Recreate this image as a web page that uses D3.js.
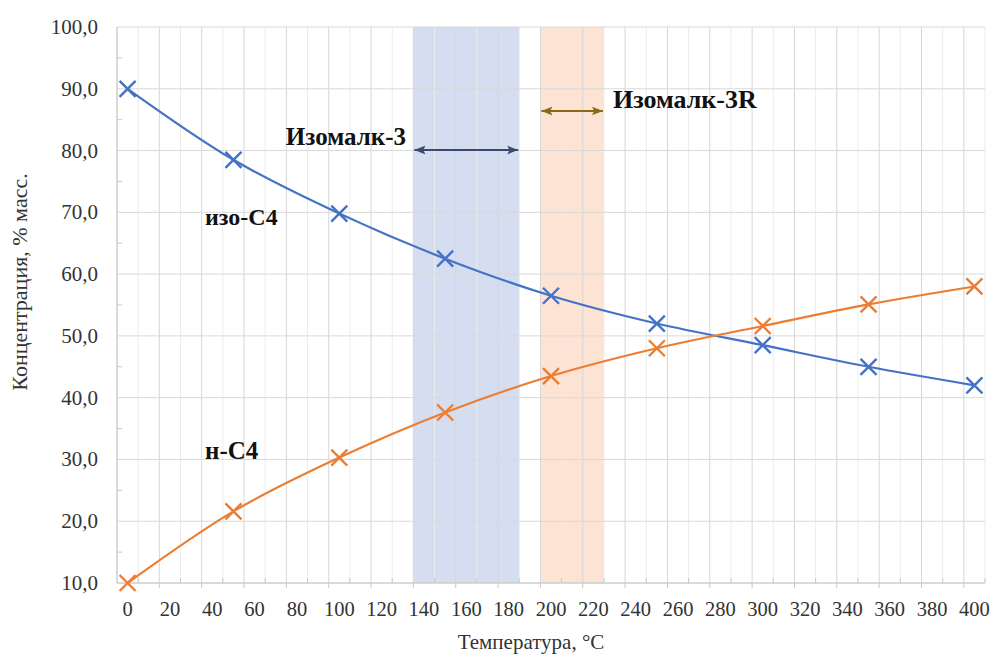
<!DOCTYPE html>
<html>
<head>
<meta charset="utf-8">
<script src="https://cdn.jsdelivr.net/npm/d3@7"></script>
<style>
  body { margin: 0; background: #fff; }
</style>
</head>
<body>
<div id="chart"></div>
<script>
// Temperature points, °C
var temps = [0, 50, 100, 150, 200, 250, 300, 350, 400];
// Concentration, % mass
var isoC4 = [90.0, 78.5, 69.8, 62.5, 56.5, 52.0, 48.5, 45.0, 42.0];
var nC4 = [10.0, 21.6, 30.3, 37.6, 43.5, 48.0, 51.6, 55.1, 58.0];

// Catalyst operating ranges
var bands = [
  { name: "Изомалк-3", from: 135, to: 185 },
  { name: "Изомалк-3R", from: 195, to: 225 }
];

var xTicks = d3.range(0, 401, 20);
var yTicks = d3.range(10, 101, 10);

var width = 993, height = 657;

var svg = d3.select("#chart").append("svg")
  .attr("width", width)
  .attr("height", height)
  .attr("font-family", "'Liberation Serif', 'Times New Roman', Tinos, 'DejaVu Serif', serif");

// Axis range mirrors the original sheet (min -5, so grid sits at odd values)
var x = d3.scaleLinear().domain([-5, 405]).range([117, 985]);
var y = d3.scaleLinear().domain([10, 100]).range([583, 27]);

// Shaded bands
var bandColors = ["#d5ddf0", "#fce3d4"];
svg.append("g")
  .selectAll("rect")
  .data(bands)
  .enter().append("rect")
  .attr("x", d => x(d.from))
  .attr("width", d => x(d.to) - x(d.from))
  .attr("y", y(100))
  .attr("height", y(10) - y(100))
  .attr("fill", (d, i) => bandColors[i]);

// Vertical gridlines every 10, darker every 20
var grid = svg.append("g").attr("class", "grid");
grid.selectAll("line.vx")
  .data(d3.range(-5, 406, 10))
  .enter().append("line")
  .attr("x1", d => x(d)).attr("x2", d => x(d))
  .attr("y1", y(100)).attr("y2", y(10))
  .attr("stroke", d => ((d + 5) % 20 == 0) ? "#d6d6d6" : "#ececec")
  .attr("stroke-width", 1);

// Horizontal gridlines
grid.selectAll("line.hy")
  .data(yTicks)
  .enter().append("line")
  .attr("x1", x(-5)).attr("x2", x(405))
  .attr("y1", d => y(d)).attr("y2", d => y(d))
  .attr("stroke", "#d9d9d9")
  .attr("stroke-width", 1);

// Axis lines
svg.append("line")
  .attr("x1", x(-5)).attr("x2", x(-5))
  .attr("y1", y(100)).attr("y2", y(10))
  .attr("stroke", "#c8c8c8");
svg.append("line")
  .attr("x1", x(-5)).attr("x2", x(405))
  .attr("y1", y(10)).attr("y2", y(10))
  .attr("stroke", "#c8c8c8");

// Minor ticks on y axis
svg.append("g").selectAll("line")
  .data(d3.range(15, 100, 10))
  .enter().append("line")
  .attr("x1", x(-5)).attr("x2", x(-5) + 5)
  .attr("y1", d => y(d)).attr("y2", d => y(d))
  .attr("stroke", "#c8c8c8");

// Ticks on x axis: major below, minor above
svg.append("g").selectAll("line")
  .data(d3.range(15, 406, 20))
  .enter().append("line")
  .attr("x1", d => x(d)).attr("x2", d => x(d))
  .attr("y1", y(10)).attr("y2", y(10) + 5)
  .attr("stroke", "#c8c8c8");
svg.append("g").selectAll("line")
  .data(d3.range(5, 406, 20))
  .enter().append("line")
  .attr("x1", d => x(d)).attr("x2", d => x(d))
  .attr("y1", y(10) - 5).attr("y2", y(10))
  .attr("stroke", "#c8c8c8");

// Tick labels
var fmt = d => d3.format(".1f")(d).replace(".", ",");
svg.append("g").selectAll("text")
  .data(yTicks)
  .enter().append("text")
  .attr("x", 98)
  .attr("y", d => y(d) + 7)
  .attr("text-anchor", "end")
  .attr("font-size", 21)
  .attr("fill", "#333")
  .text(fmt);

svg.append("g").selectAll("text")
  .data(xTicks)
  .enter().append("text")
  .attr("x", d => x(d))
  .attr("y", 616)
  .attr("text-anchor", "middle")
  .attr("font-size", 20.5)
  .attr("fill", "#333")
  .text(d => d);

// Axis titles
svg.append("text")
  .attr("transform", "translate(27,282) rotate(-90)")
  .attr("text-anchor", "middle")
  .attr("font-size", 22)
  .attr("fill", "#333")
  .text("Концентрация, % масс.");

svg.append("text")
  .attr("x", 531)
  .attr("y", 649)
  .attr("text-anchor", "middle")
  .attr("font-size", 21)
  .attr("fill", "#333")
  .text("Температура, °С");

// Series
var series = [
  { name: "изо-С4", values: isoC4, color: "#4472c4" },
  { name: "н-С4", values: nC4, color: "#ed7d31" }
];

var line = d3.line()
  .x((d, i) => x(temps[i]))
  .y(d => y(d))
  .curve(d3.curveCatmullRom.alpha(0.5));

series.forEach(function(s) {
  svg.append("path")
    .datum(s.values)
    .attr("fill", "none")
    .attr("stroke", s.color)
    .attr("stroke-width", 2.2)
    .attr("d", line);

  var m = 8;
  svg.append("g").selectAll("path")
    .data(s.values)
    .enter().append("path")
    .attr("d", (d, i) => {
      var cx = x(temps[i]), cy = y(d);
      return "M" + (cx - m) + "," + (cy - m) + "L" + (cx + m) + "," + (cy + m) +
        "M" + (cx - m) + "," + (cy + m) + "L" + (cx + m) + "," + (cy - m);
    })
    .attr("stroke", s.color)
    .attr("stroke-width", 2.4)
    .attr("fill", "none");
});

// Series labels
svg.append("text")
  .attr("x", 205).attr("y", 225)
  .attr("font-size", 24).attr("font-weight", "bold").attr("fill", "#111")
  .text("изо-С4");
svg.append("text")
  .attr("x", 205).attr("y", 459)
  .attr("font-size", 25).attr("font-weight", "bold").attr("fill", "#111")
  .text("н-С4");

// Range arrows
var defs = svg.append("defs");
var arrowColors = ["#3b4a6b", "#8a6a12"];
arrowColors.forEach(function(c, i) {
  defs.append("marker")
    .attr("id", "arr" + i)
    .attr("viewBox", "0 -5 10 10")
    .attr("refX", 10)
    .attr("refY", 0)
    .attr("markerWidth", 5)
    .attr("markerHeight", 5)
    .attr("markerUnits", "strokeWidth")
    .attr("orient", "auto-start-reverse")
    .append("path")
    .attr("d", "M0,-4L10,0L0,4L2,0Z")
    .attr("fill", c);
});

var arrowY = [150, 111];
bands.forEach(function(b, i) {
  svg.append("line")
    .attr("x1", x(b.from) + 1).attr("x2", x(b.to) - 1)
    .attr("y1", arrowY[i]).attr("y2", arrowY[i])
    .attr("stroke", arrowColors[i])
    .attr("stroke-width", 2.2)
    .attr("marker-start", "url(#arr" + i + ")")
    .attr("marker-end", "url(#arr" + i + ")");
});

svg.append("text")
  .attr("x", 406).attr("y", 145)
  .attr("text-anchor", "end")
  .attr("font-size", 25).attr("font-weight", "bold").attr("fill", "#111")
  .text(bands[0].name);
svg.append("text")
  .attr("x", 613).attr("y", 108)
  .attr("font-size", 26).attr("font-weight", "bold").attr("fill", "#111")
  .text(bands[1].name);
</script>
</body>
</html>
